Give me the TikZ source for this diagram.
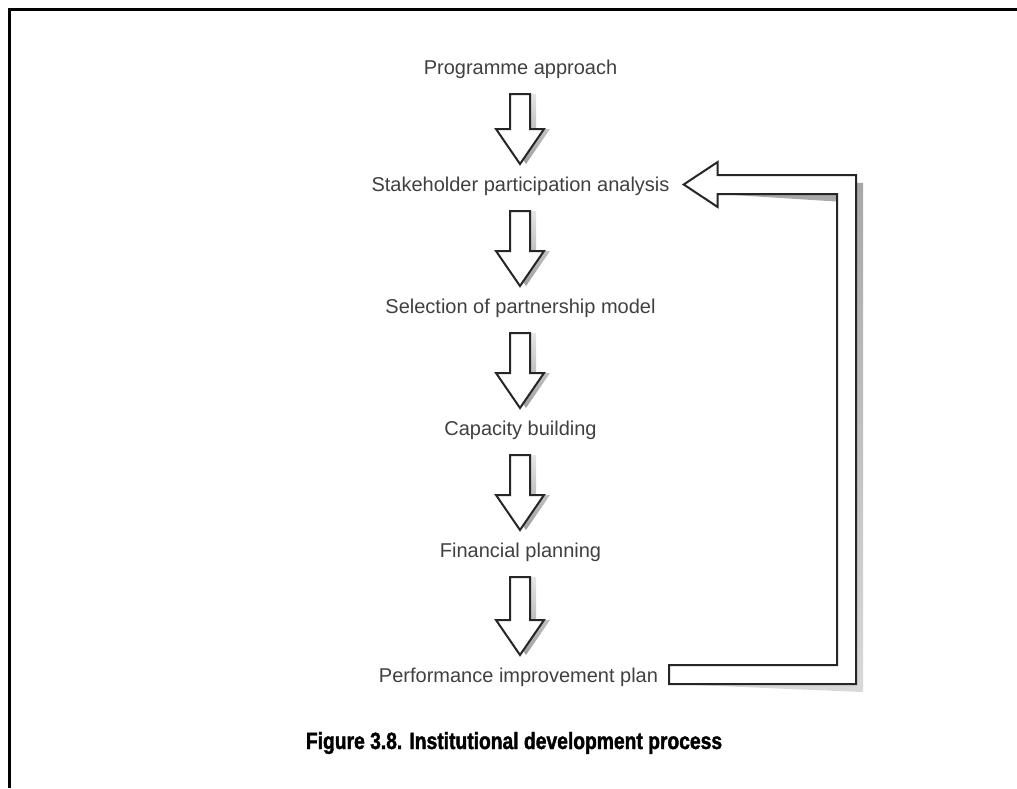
\documentclass[tikz,border=0pt]{standalone}
\usepackage{fontspec}
\setmainfont{Liberation Sans}
\newfontfamily\capfont{Liberation Sans}[FakeStretch=0.82,BoldFeatures={FakeBold=1.6}]
\usetikzlibrary{calc}
\newcommand\dnarrow[2]{%
  \begin{scope}[shift={(6pt,-6pt)}]
    \shade[top color=gray!20,bottom color=gray!75] let \p1=(#1.base), \p2=(#2.base) in
      (510pt,\y1-20pt) -- (530pt,\y1-20pt) -- (530pt,\y2+62pt) -- (544pt,\y2+62pt)
      -- (520pt,\y2+27pt) -- (496pt,\y2+62pt) -- (510pt,\y2+62pt) -- cycle;
  \end{scope}
  \draw[outl] let \p1=(#1.base), \p2=(#2.base) in
      (510pt,\y1-20pt) -- (530pt,\y1-20pt) -- (530pt,\y2+62pt) -- (544pt,\y2+62pt)
      -- (520pt,\y2+27pt) -- (496pt,\y2+62pt) -- (510pt,\y2+62pt) -- cycle;
}
\begin{document}
\begin{tikzpicture}[x=1pt,y=-1pt,
  lbl/.style={font=\fontsize{20}{24}\selectfont, text=black!75, inner sep=0pt, anchor=base},
  outl/.style={draw=black!85, line width=2pt, fill=white, line join=miter},
  capstyle/.style={font=\capfont\bfseries\fontsize{23.5}{28}\selectfont, inner sep=0pt, anchor=base}]
\useasboundingbox (0,0) rectangle (1017,788);
\draw[line width=3pt] (9,788) -- (9,9) -- (1017,9);

\node[lbl] (t1) at (520.5,74) {Programme approach};
\node[lbl] (t2) at (520.5,191) {Stakeholder participation analysis};
\node[lbl] (t3) at (520.5,313) {Selection of partnership model};
\node[lbl] (t4) at (520.5,435) {Capacity building};
\node[lbl] (t5) at (520.5,557) {Financial planning};
\node[lbl] (t6) at (518.5,682) {Performance improvement plan};

\dnarrow{t1}{t2}
\dnarrow{t2}{t3}
\dnarrow{t3}{t4}
\dnarrow{t4}{t5}
\dnarrow{t5}{t6}

% feedback arrow
\coordinate (fbtip) at ($(t2.base east)+(14,-6.5)$);
\coordinate (fbtail) at ($(t6.base east)+(11,-7.5)$);
\begin{scope}[shift={(7pt,-8pt)}]
  \shade[top color=gray!70,bottom color=gray!30]
    (fbtip) -- ($(fbtip)+(34,-22.5)$) -- ($(fbtip)+(34,-9.5)$) -- (856,175) -- (856,684)
    -- ($(fbtail)+(0,9.5)$) -- ($(fbtail)+(0,-9.5)$) -- (837,665) -- (837,194)
    -- ($(fbtip)+(34,9.5)$) -- ($(fbtip)+(34,22.5)$) -- cycle;
\end{scope}
\draw[outl]
    (fbtip) -- ($(fbtip)+(34,-22.5)$) -- ($(fbtip)+(34,-9.5)$) -- (856,175) -- (856,684)
    -- ($(fbtail)+(0,9.5)$) -- ($(fbtail)+(0,-9.5)$) -- (837,665) -- (837,194)
    -- ($(fbtip)+(34,9.5)$) -- ($(fbtip)+(34,22.5)$) -- cycle;

\node[capstyle] (cap) at (514,749) {Figure 3.8. Institutional development process};
\end{tikzpicture}
\end{document}
